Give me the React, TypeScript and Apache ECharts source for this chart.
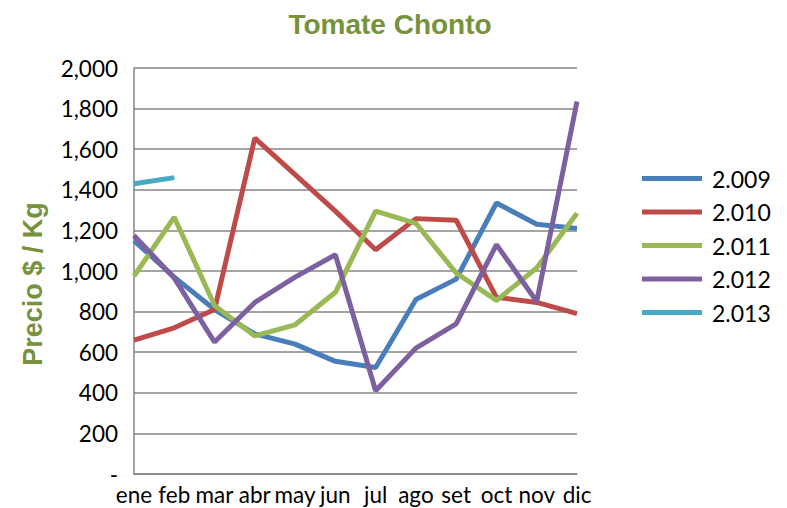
import React, { useEffect, useRef } from "react";
import * as echarts from "echarts";

const months = ["ene", "feb", "mar", "abr", "may", "jun", "jul", "ago", "set", "oct", "nov", "dic"];
const s2009 = [1150, 970, 810, 690, 640, 555, 525, 860, 960, 1335, 1230, 1210];
const s2010 = [660, 720, 810, 1655, 1475, 1295, 1105, 1258, 1250, 870, 845, 790];
const s2011 = [975, 1265, 830, 680, 735, 895, 1295, 1235, 990, 855, 1015, 1285];
const s2012 = [1175, 965, 650, 845, 970, 1080, 410, 620, 740, 1130, 850, 1835];
const s2013 = [1430, 1460, null, null, null, null, null, null, null, null, null, null];
const seriesNames = ["2.009", "2.010", "2.011", "2.012", "2.013"];
const colors = ["#4A7EBB", "#BE4B48", "#98B954", "#7D60A0", "#46AAC5"];

export default function App() {
  const ref = useRef<HTMLDivElement>(null);
  useEffect(() => {
    if (!ref.current) return;
    const chart = echarts.init(ref.current, null, { renderer: "svg" });
    const data = [s2009, s2010, s2011, s2012, s2013];
    chart.setOption({
      animation: false,
      backgroundColor: "#ffffff",
      title: {
        text: "Tomate Chonto",
        left: 385,
        textAlign: "center",
        top: 5,
        textStyle: { fontFamily: "Liberation Sans", fontWeight: "bold", fontSize: 28, color: "#76923C" },
      },
      graphic: [
        {
          type: "text",
          x: 33,
          y: 284,
          rotation: Math.PI / 2,
          style: {
            text: "Precio $ / Kg",
            fontFamily: "Liberation Sans",
            fontWeight: "bold",
            fontSize: 27,
            fill: "#76923C",
            align: "center",
            verticalAlign: "middle",
          },
        },
      ],
      legend: {
        orient: "vertical",
        left: 637,
        top: 162,
        itemWidth: 60,
        itemHeight: 5,
        itemGap: 10.5,
        icon: "rect",
        textStyle: { fontFamily: "Lato", fontSize: 23, color: "#000", lineHeight: 23, padding: [0, 0, 0, 5] },
        data: seriesNames,
      },
      grid: { left: 134, right: 210, top: 68, bottom: 34 },
      xAxis: {
        type: "category",
        data: months,
        boundaryGap: false,
        axisLine: { lineStyle: { color: "#868686", width: 1.5 } },
        axisTick: { show: false },
        axisLabel: { fontFamily: "Lato", fontSize: 22.5, color: "#000", margin: 9, interval: 0 },
        splitLine: { show: false },
      },
      yAxis: {
        type: "value",
        min: 0,
        max: 2000,
        interval: 200,
        axisLine: { show: true, lineStyle: { color: "#868686", width: 1.5 } },
        axisTick: { show: false },
        axisLabel: {
          fontFamily: "Lato",
          fontSize: 22.5,
          color: "#000",
          margin: 16,
          formatter: (v: number) => (v === 0 ? "-" : v.toLocaleString("en-US")),
        },
        splitLine: { lineStyle: { color: "#868686", width: 1.5 } },
      },
      series: data.map((d, i) => ({
        name: seriesNames[i],
        type: "line",
        data: d,
        showSymbol: false,
        symbol: "none",
        lineStyle: { width: 5, color: colors[i] },
        itemStyle: { color: colors[i] },
      })),
    });
    return () => chart.dispose();
  }, []);
  return <div ref={ref} style={{ width: 787, height: 508, position: "absolute", left: 0, top: 0 }} />;
}
